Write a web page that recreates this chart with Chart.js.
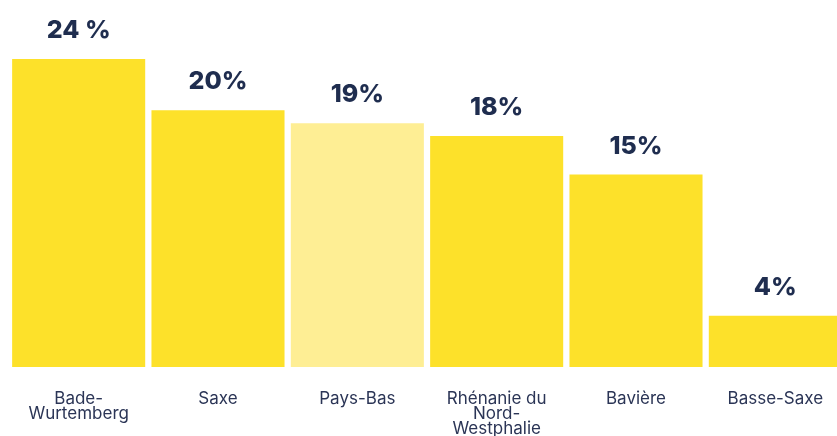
<!DOCTYPE html>
<html lang="fr">
<head>
    <meta charset="UTF-8">
    <title>Répartition par région</title>
    <script src="https://cdn.jsdelivr.net/npm/chart.js"></script>
    <style>
        body {
            margin: 0;
            padding: 0;
            background: #ffffff;
        }
        .frame {
            width: 837px;
            height: 436px;
            overflow: hidden;
        }
        .inner {
            width: 846px;
            height: 436px;
        }
    </style>
</head>
<body>
    <div class="frame">
        <div class="inner">
            <canvas id="regionChart"></canvas>
        </div>
    </div>
    <script>
        // Données
        const regions = [
            ["Bade-", "Wurtemberg"],
            "Saxe",
            "Pays-Bas",
            ["Rhénanie du", "Nord-", "Westphalie"],
            "Bavière",
            "Basse-Saxe"
        ];
        const shares = [24, 20, 19, 18, 15, 4];
        const shareLabels = ["24 %", "20%", "19%", "18%", "15%", "4%"];
        const barColors = ["#FDE12A", "#FDE12A", "#FEEE94", "#FDE12A", "#FDE12A", "#FDE12A"];

        // Étiquettes de valeur au-dessus des barres
        const valueLabels = {
            id: "valueLabels",
            afterDatasetsDraw(chart) {
                const ctx = chart.ctx;
                const meta = chart.getDatasetMeta(0);
                ctx.save();
                ctx.fillStyle = "#1F2D4F";
                ctx.font = "800 25px Inter, 'Open Sans', sans-serif";
                ctx.textAlign = "center";
                ctx.textBaseline = "alphabetic";
                meta.data.forEach((bar, i) => {
                    ctx.fillText(shareLabels[i], bar.x, bar.y - 21);
                });
                ctx.restore();
            }
        };

        new Chart(document.getElementById("regionChart"), {
            type: "bar",
            data: {
                labels: regions,
                datasets: [{
                    data: shares,
                    backgroundColor: barColors,
                    borderWidth: 0,
                    barPercentage: 0.955,
                    categoryPercentage: 1
                }]
            },
            options: {
                responsive: true,
                maintainAspectRatio: false,
                animation: false,
                layout: {
                    padding: { left: 9, right: 1, top: 0, bottom: 0 }
                },
                plugins: {
                    legend: { display: false },
                    tooltip: { enabled: false }
                },
                scales: {
                    x: {
                        grid: { display: false },
                        border: { display: false },
                        ticks: {
                            color: "#2B3556",
                            font: { family: "Inter, 'Open Sans', sans-serif", size: 17, lineHeight: 0.88 },
                            padding: 16,
                            maxRotation: 0,
                            autoSkip: false
                        },
                        afterFit(scale) {
                            scale.height = 69;
                        }
                    },
                    y: {
                        display: false,
                        min: 0,
                        max: 28.6
                    }
                }
            },
            plugins: [valueLabels]
        });
    </script>
</body>
</html>
